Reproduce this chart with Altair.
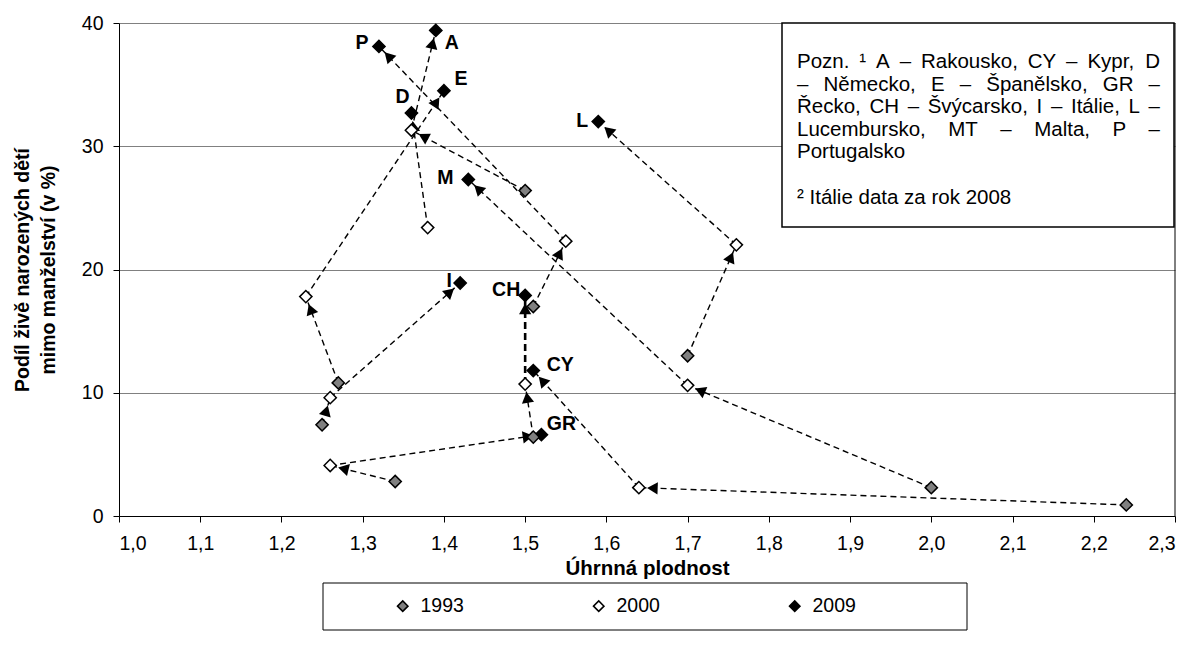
import math
import altair as alt
import pandas as pd

# ---------------- data ----------------
countries = ["A", "CY", "D", "E", "GR", "CH", "I", "L", "M", "P"]
fert_1993 = [1.50, 2.24, None, 1.27, 1.34, 1.51, 1.25, 1.70, 2.00, 1.51]
share_1993 = [26.4, 0.9, None, 10.8, 2.8, 6.4, 7.4, 13.0, 2.3, 17.0]
fert_2000 = [1.36, 1.64, 1.38, 1.23, 1.26, 1.50, 1.26, 1.76, 1.70, 1.55]
share_2000 = [31.3, 2.3, 23.4, 17.8, 4.1, 10.7, 9.6, 22.0, 10.6, 22.3]
fert_2009 = [1.39, 1.51, 1.36, 1.40, 1.52, 1.50, 1.42, 1.59, 1.43, 1.32]
share_2009 = [39.4, 11.8, 32.7, 34.5, 6.6, 17.9, 18.9, 32.0, 27.3, 38.1]
years = ["1993", "2000", "2009"]
x_ticks = [1.0, 1.1, 1.2, 1.3, 1.4, 1.5, 1.6, 1.7, 1.8, 1.9, 2.0, 2.1, 2.2, 2.3]
y_ticks = [0, 10, 20, 30, 40]

note_justified = [
    "Pozn. \u00b9 A \u2013 Rakousko, CY \u2013 Kypr, D",
    "\u2013 N\u011bmecko, E \u2013 \u0160pan\u011blsko, GR \u2013",
    "\u0158ecko, CH \u2013 \u0160v\u00fdcarsko, I \u2013 It\u00e1lie, L \u2013",
    "Lucembursko, MT \u2013 Malta, P \u2013",
]
note_plain = ["Portugalsko", "", "\u00b2 It\u00e1lie data za rok 2008"]

# ---------------- layout ----------------
W, H = 1056, 493
XMIN, XMAX, YMIN, YMAX = 1.0, 2.3, 0, 40
PX_X = W / (XMAX - XMIN)
PX_Y = H / (YMAX - YMIN)
FONT = "Liberation Sans"
FS = 19.5
NOTE_FS = 20.5

# Arial / Liberation Sans advance widths (per 1000 em) for the note text
AW = {" ": 278, ".": 278, ",": 278, "\u2013": 556, "\u00b9": 333, "\u00b2": 333,
      "A": 667, "C": 722, "D": 722, "E": 667, "G": 778, "H": 722, "I": 278,
      "K": 667, "L": 556, "M": 833, "N": 722, "P": 667, "R": 722, "T": 611,
      "Y": 667, "\u0160": 667, "\u0158": 722,
      "a": 556, "c": 500, "d": 556, "e": 556, "g": 556, "i": 222, "k": 500,
      "l": 222, "m": 833, "n": 556, "o": 556, "p": 556, "r": 333, "s": 500,
      "t": 278, "u": 556, "v": 500, "y": 500, "z": 500, "\u00e1": 556,
      "\u011b": 556, "\u00fd": 500}


def text_w(s):
    return sum(AW.get(ch, 556) for ch in s) / 1000 * NOTE_FS


# ---------------- tables ----------------
fx = [fert_1993, fert_2000, fert_2009]
sy = [share_1993, share_2000, share_2009]
pts, seg_rows, arrows = [], [], []
for i, c in enumerate(countries):
    chain = []
    for k, yr in enumerate(years):
        if fx[k][i] is None:
            continue
        pts.append({"country": c, "year": yr, "x": fx[k][i], "y": sy[k][i]})
        chain.append((fx[k][i], sy[k][i]))
    for j in range(len(chain) - 1):
        (x1, y1), (x2, y2) = chain[j], chain[j + 1]
        sid = f"{c}-{j}"
        seg_rows.append({"seg": sid, "o": 0, "x": x1, "y": y1})
        seg_rows.append({"seg": sid, "o": 1, "x": x2, "y": y2})
        dxp = (x2 - x1) * PX_X
        dyp = (y2 - y1) * PX_Y
        L = math.hypot(dxp, dyp)
        off = 13.5
        ax = x2 - off * dxp / L / PX_X
        ay = y2 - off * dyp / L / PX_Y
        ang = math.degrees(math.atan2(dxp, dyp)) % 360
        arrows.append({"seg": sid, "x": ax, "y": ay, "angle": ang})

pts_df = pd.DataFrame(pts)
seg_df = pd.DataFrame(seg_rows)
arr_df = pd.DataFrame(arrows)

xs = alt.Scale(domain=[XMIN, XMAX], nice=False, zero=False)
ys = alt.Scale(domain=[YMIN, YMAX], nice=False, zero=False)

base_x = alt.X(
    "x:Q", scale=xs,
    axis=alt.Axis(
        values=x_ticks, title="\u00dahrnn\u00e1 plodnost", grid=False,
        labelExpr="replace(format(datum.value, '.1f'), '.', ',')",
        domainColor="black", tickColor="black", tickSize=6, labelPadding=12,
        labelFont=FONT, labelFontSize=FS, labelColor="black",
        titleFont=FONT, titleFontSize=20.5, titleFontWeight="bold", titleColor="black",
        titleBaseline="middle", titleY=52,
    ),
)
base_y = alt.Y(
    "y:Q", scale=ys,
    axis=alt.Axis(
        values=y_ticks, title=["Pod\u00edl \u017eiv\u011b narozen\u00fdch d\u011bt\u00ed",
                               "mimo man\u017eelstv\u00ed (v %)"],
        grid=True, gridColor="#808080", gridWidth=1,
        domainColor="black", tickColor="black", tickSize=6, labelPadding=10,
        labelFont=FONT, labelFontSize=FS, labelColor="black",
        titleFont=FONT, titleFontSize=FS, titleFontWeight="bold", titleColor="black",
        titleLineHeight=26, titleX=-97, titleY=H / 2, titleAngle=270,
        titleBaseline="middle",
    ),
)

lines = alt.Chart(seg_df).mark_line(
    color="black", strokeDash=[6, 4], strokeWidth=1.4
).encode(
    x=base_x, y=base_y, detail="seg:N", order="o:Q"
).transform_filter(alt.datum.seg != "CH-1")

thick = alt.Chart(seg_df).mark_line(
    color="black", strokeDash=[7, 4], strokeWidth=2.6
).encode(
    x="x:Q", y="y:Q", detail="seg:N", order="o:Q"
).transform_filter(alt.datum.seg == "CH-1")

arrow_marks = alt.Chart(arr_df).mark_point(
    shape="triangle-up", filled=True, color="black", size=150, opacity=1
).encode(
    x="x:Q", y="y:Q", angle=alt.Angle("angle:Q", scale=None)
)

points = alt.Chart(pts_df).mark_point(
    shape="diamond", filled=True, size=150, stroke="black", strokeWidth=1.5, opacity=1
).encode(
    x="x:Q", y="y:Q",
    fill=alt.Fill(
        "year:N",
        scale=alt.Scale(domain=years, range=["#808080", "#ffffff", "#000000"]),
        legend=alt.Legend(
            title=None, orient="none", direction="horizontal",
            legendX=274, legendY=573, columnPadding=125,
            symbolType="diamond", symbolSize=110, symbolStrokeColor="black",
            symbolStrokeWidth=1.5, labelFont=FONT, labelFontSize=FS,
            labelColor="black", labelOffset=8,
        ),
    ),
)

offsets = {
    "P": (-17, -3), "A": (16, 13), "E": (17, -12), "D": (-9, -16), "M": (-23, -2),
    "L": (-16, -1), "I": (-11, -2), "CH": (-19, -5), "CY": (27, -6), "GR": (20, -11),
}
label_layers = []
for c, (dx, dy) in offsets.items():
    label_layers.append(
        alt.Chart(pts_df).transform_filter(
            (alt.datum.country == c) & (alt.datum.year == "2009")
        ).mark_text(
            dx=dx, dy=dy, font=FONT, fontSize=FS, fontWeight="bold", color="black"
        ).encode(x="x:Q", y="y:Q", text="country:N")
    )

one = pd.DataFrame({"k": [0]})
right_edge = alt.Chart(one).mark_rule(color="black", strokeWidth=1).encode(
    x=alt.value(W), y=alt.value(0), y2=alt.value(H)
)
note_box = alt.Chart(one).mark_rect(
    fill="white", stroke="black", strokeWidth=1.5
).encode(x=alt.value(663), x2=alt.value(W - 1), y=alt.value(0), y2=alt.value(204))

# note text, justified like the original text box
NL, NR, NY0, NLH = 678, 1041, 39, 22.6
note_layers = []
for li, line in enumerate(note_justified):
    words = line.split(" ")
    total = sum(text_w(w) for w in words)
    gap = (NR - NL - total) / (len(words) - 1)
    xpos = NL
    for w in words:
        note_layers.append(
            alt.Chart(one).mark_text(
                align="left", baseline="middle", font=FONT, fontSize=NOTE_FS,
                color="black"
            ).encode(x=alt.value(xpos), y=alt.value(NY0 + li * NLH), text=alt.value(w))
        )
        xpos += text_w(w) + gap
for k, line in enumerate(note_plain):
    if not line:
        continue
    note_layers.append(
        alt.Chart(one).mark_text(
            align="left", baseline="middle", font=FONT, fontSize=NOTE_FS, color="black"
        ).encode(x=alt.value(NL), y=alt.value(NY0 + (len(note_justified) + k) * NLH),
                 text=alt.value(line))
    )

legend_box = alt.Chart(one).mark_rect(
    fill="white", stroke="black", strokeWidth=1
).encode(x=alt.value(204), x2=alt.value(848), y=alt.value(560), y2=alt.value(607))

chart = alt.layer(
    legend_box, right_edge, lines, thick, arrow_marks, points, *label_layers,
    note_box, *note_layers,
).properties(
    width=W, height=H,
    padding={"left": 111, "top": 15, "right": 12, "bottom": 123},
    autosize=alt.AutoSizeParams(type="none"),
).configure_view(stroke=None)

chart.save("out.html", embed_options={"renderer": "svg", "actions": False})
